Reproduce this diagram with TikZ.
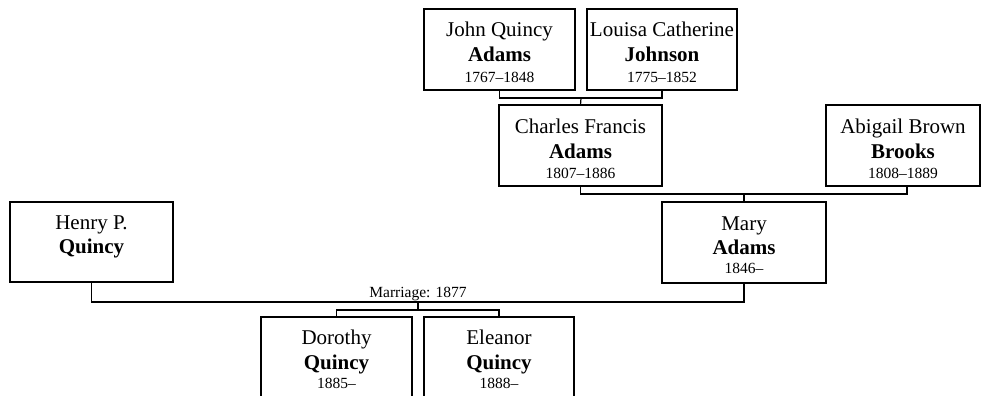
\documentclass[tikz,border=0pt]{standalone}
\usepackage{fontspec}
\setmainfont{Liberation Serif}
\begin{document}
\begin{tikzpicture}[x=1pt,y=-1pt,
  box/.style={draw=black,line width=1.2pt,minimum height=81pt,inner sep=0pt,outer sep=0pt},
  big/.style={anchor=base,inner sep=0pt,font=\fontsize{21}{25}\selectfont},
  bigb/.style={anchor=base,inner sep=0pt,font=\fontsize{21}{25}\selectfont\bfseries},
  small/.style={anchor=base,inner sep=0pt,font=\fontsize{15.5}{18}\selectfont},
  link/.style={draw=black,line width=1.2pt}]
\useasboundingbox (0,0) rectangle (982,396);
% boxes
\node[box,minimum width=151pt] (jqa) at (499.5,49.5) {};
\node[box,minimum width=150pt] (lcj) at (662,49.5) {};
\node[box,minimum width=163pt] (cfa) at (580.5,145.5) {};
\node[box,minimum width=154pt] (abb) at (903,145.5) {};
\node[box,minimum width=163pt,minimum height=80pt] (hpq) at (91.5,242) {};
\node[box,minimum width=164pt] (mary) at (744,242.5) {};
\node[box,minimum width=151pt] (dor) at (336.5,357.5) {};
\node[box,minimum width=150pt] (ele) at (499,357.5) {};
% texts
\node[big]  (t1a) at ([yshift=-28pt]jqa.north) {John Quincy};
\node[bigb] (t1b) at ([yshift=-53pt]jqa.north) {Adams};
\node[small](t1c) at ([yshift=-73pt]jqa.north) {1767–1848};
\node[big]  (t2a) at ([yshift=-28pt]lcj.north) {Louisa Catherine};
\node[bigb] (t2b) at ([yshift=-53pt]lcj.north) {Johnson};
\node[small](t2c) at ([yshift=-73pt]lcj.north) {1775–1852};
\node[big]  (t3a) at ([yshift=-28pt]cfa.north) {Charles Francis};
\node[bigb] (t3b) at ([yshift=-53pt]cfa.north) {Adams};
\node[small](t3c) at ([yshift=-73pt]cfa.north) {1807–1886};
\node[big]  (t4a) at ([yshift=-28pt]abb.north) {Abigail Brown};
\node[bigb] (t4b) at ([yshift=-53pt]abb.north) {Brooks};
\node[small](t4c) at ([yshift=-73pt]abb.north) {1808–1889};
\node[big]  (t5a) at ([yshift=-27pt]hpq.north) {Henry P.};
\node[bigb] (t5b) at ([yshift=-51pt]hpq.north) {Quincy};
\node[big]  (t6a) at ([yshift=-28pt]mary.north) {Mary};
\node[bigb] (t6b) at ([yshift=-52pt]mary.north) {Adams};
\node[small](t6c) at ([yshift=-71pt]mary.north) {1846–};
\node[big]  (t7a) at ([yshift=-27pt]dor.north) {Dorothy};
\node[bigb] (t7b) at ([yshift=-52pt]dor.north) {Quincy};
\node[small](t7c) at ([yshift=-71pt]dor.north) {1885–};
\node[big]  (t8a) at ([yshift=-27pt]ele.north) {Eleanor};
\node[bigb] (t8b) at ([yshift=-52pt]ele.north) {Quincy};
\node[small](t8c) at ([yshift=-71pt]ele.north) {1888–};
% junction coordinates
\coordinate (m1) at (581,98);
\coordinate (m2) at (744,194);
\coordinate (m3) at (418,302);
\coordinate (c3) at (418,310);
% connectors
\draw[link] (jqa.south) |- (m1) -| (lcj.south);
\draw[link] (m1) -- (cfa.north);
\draw[link] (cfa.south) |- (m2) -| ([xshift=4pt]abb.south);
\draw[link] (m2) -- (mary.north);
\draw[link] (hpq.south) |- (m3) -| (mary.south);
\draw[link] (m3) -- (c3);
\draw[link] (dor.north) |- (c3) -| (ele.north);
\node[small] (lab) at (418,297) {Marriage: 1877};
\end{tikzpicture}
\end{document}
